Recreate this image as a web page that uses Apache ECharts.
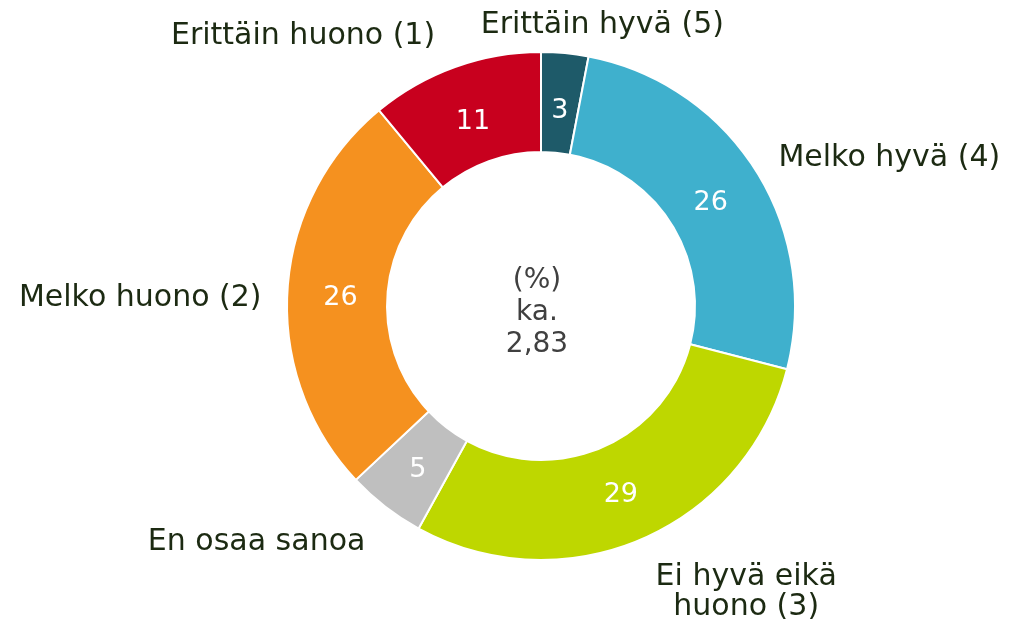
<!DOCTYPE html>
<html><head><meta charset="utf-8">
<script src="https://cdn.jsdelivr.net/npm/echarts@6/dist/echarts.min.js"></script>
<style>html,body{margin:0;padding:0;background:#fff}#c{width:1010px;height:630px}</style>
</head><body><div id="c"></div>
<script>
// ---- data ----
const categories = ['Erittäin hyvä (5)', 'Melko hyvä (4)', 'Ei hyvä eikä\nhuono (3)', 'En osaa sanoa', 'Melko huono (2)', 'Erittäin huono (1)'];
const values = [3, 26, 29, 5, 26, 11];
const centerLines = ['(%)', 'ka.', '2,83'];

// ---- styles ----
const colors = ['#1e5a69', '#3fb0cd', '#bed700', '#bfbfbf', '#f5911f', '#c8001e'];
const labelPlacement = [
  { align: 'center', dx: 35, dy: -2 },
  { align: 'left', dx: 1, dy: 2 },
  { align: 'center', dx: 94, dy: 29 },
  { align: 'right', dx: -4, dy: 15 },
  { align: 'right', dx: 0, dy: 10 },
  { align: 'right', dx: -11, dy: -6 }
];
const CX = 541, CY = 306, R0 = 154, R1 = 254, LABEL_R = 280, VALUE_R = 201, VALUE_DY = 5;
const FONT = 'DejaVu Sans, Verdana, sans-serif';

const total = values.reduce((a, b) => a + b, 0);
function midAngle(i) {
  let cum = 0;
  for (let k = 0; k < i; k++) cum += values[k];
  return (cum + values[i] / 2) / total * Math.PI * 2;
}

const pieData = categories.map((name, i) => ({ name: name, value: values[i], itemStyle: { color: colors[i] } }));

const chart = echarts.init(document.getElementById('c'), null, { renderer: 'canvas' });
chart.setOption({
  animation: false,
  backgroundColor: '#ffffff',
  series: [
    {
      type: 'pie',
      center: [CX, CY],
      radius: [R0, R1],
      startAngle: 90,
      clockwise: true,
      avoidLabelOverlap: false,
      silent: true,
      itemStyle: { borderColor: '#ffffff', borderWidth: 2 },
      label: {
        show: true, position: 'inside', formatter: '{c}',
        color: '#ffffff', fontSize: 27, fontFamily: FONT
      },
      labelLine: { show: false },
      labelLayout: function (params) {
        const a = midAngle(params.dataIndex);
        return {
          x: CX + VALUE_R * Math.sin(a),
          y: CY - VALUE_R * Math.cos(a) + VALUE_DY,
          align: 'center',
          verticalAlign: 'middle'
        };
      },
      data: pieData
    },
    {
      type: 'pie',
      center: [CX, CY],
      radius: [R0, R1],
      startAngle: 90,
      clockwise: true,
      avoidLabelOverlap: false,
      silent: true,
      itemStyle: { color: 'rgba(0,0,0,0)', borderWidth: 0 },
      label: {
        show: true, position: 'outside', formatter: '{b}',
        color: '#1c2a12', fontSize: 30, lineHeight: 30, fontFamily: FONT
      },
      labelLine: { show: false },
      labelLayout: function (params) {
        const i = params.dataIndex;
        const a = midAngle(i);
        const p = labelPlacement[i];
        return {
          x: CX + LABEL_R * Math.sin(a) + p.dx,
          y: CY - LABEL_R * Math.cos(a) + p.dy,
          align: p.align,
          verticalAlign: 'middle'
        };
      },
      data: categories.map((name, i) => ({ name: name, value: values[i] }))
    }
  ],
  graphic: [{
    type: 'text',
    x: 537, y: 313,
    style: {
      text: centerLines.join('\n'),
      fill: '#404040',
      font: '28px ' + FONT,
      fontSize: 28, fontFamily: FONT,
      align: 'center', verticalAlign: 'middle',
      textAlign: 'center', textVerticalAlign: 'middle',
      lineHeight: 32
    }
  }]
});
</script>
</body></html>
